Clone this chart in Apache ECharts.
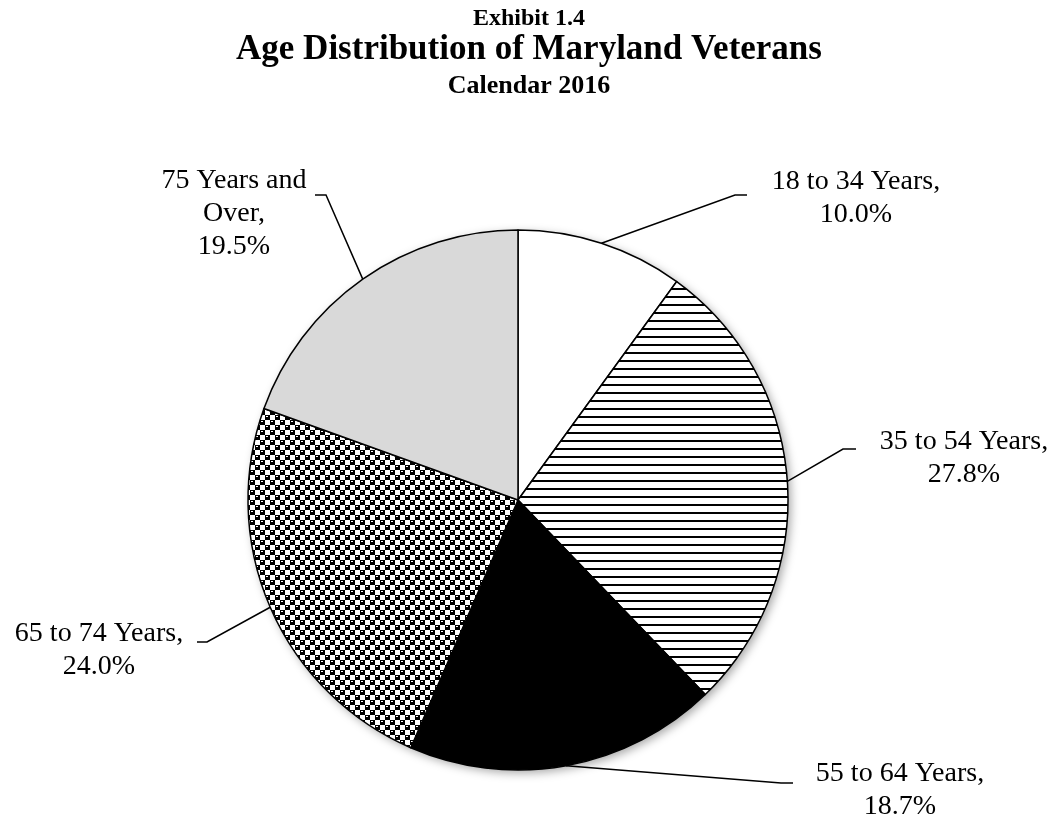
<!DOCTYPE html>
<html>
<head>
<meta charset="utf-8">
<title>Age Distribution of Maryland Veterans</title>
<script src="https://cdn.jsdelivr.net/npm/echarts@6/dist/echarts.min.js"></script>
<style>
  html, body { margin: 0; padding: 0; background: #fff; }
  #chart { width: 1058px; height: 820px; }
</style>
</head>
<body>
<div id="chart"></div>
<script>
var ageGroups = ["18 to 34 Years", "35 to 54 Years", "55 to 64 Years", "65 to 74 Years", "75 Years and Over"];
var sharePct = [10.0, 27.8, 18.7, 24.0, 19.5];

// where each label sits: text centre, and the point where the leader meets it
var labelSpots = [
  { tx: 856, ty: 198, bx: 735, by: 195, ex: 747, ey: 195 },
  { tx: 964, ty: 458, bx: 843, by: 449, ex: 856, ey: 449 },
  { tx: 900, ty: 790, bx: 781, by: 783, ex: 793, ey: 783 },
  { tx: 99,  ty: 650, bx: 207, by: 642, ex: 197, ey: 642 },
  { tx: 234, ty: 214, bx: 326, by: 195, ex: 315, ey: 195 }
];

// fill patterns like the excel ones
function hLines() {
  var c = document.createElement("canvas");
  c.width = 8; c.height = 8;
  var g = c.getContext("2d");
  g.fillStyle = "#fff"; g.fillRect(0, 0, 8, 8);
  g.fillStyle = "#000"; g.fillRect(0, 0, 8, 2);
  return c;
}
function spheres() {
  // checkerboard, black squares with a small white highlight
  var c = document.createElement("canvas");
  c.width = 10; c.height = 10;
  var g = c.getContext("2d");
  g.fillStyle = "#fff"; g.fillRect(0, 0, 10, 10);
  [[0, 0], [5, 5]].forEach(function (p) {
    g.fillStyle = "#000";
    g.fillRect(p[0], p[1], 5, 5);
    g.fillStyle = "#fff";
    g.fillRect(p[0] + 1, p[1] + 1, 2, 1);
  });
  return c;
}

var fills = [
  "#ffffff",
  { image: hLines(), repeat: "repeat" },
  "#000000",
  { image: spheres(), repeat: "repeat" },
  "#d9d9d9"
];

var pieData = ageGroups.map(function (n, i) {
  return { name: n, value: sharePct[i], itemStyle: { color: fills[i] } };
});

var serif = "'Liberation Serif', 'Times New Roman', serif";

var myChart = echarts.init(document.getElementById("chart"));
var option = {
  backgroundColor: "#fff",
  animation: false,
  title: [
    { text: "Exhibit 1.4", left: "center", top: 2,
      textStyle: { fontFamily: serif, fontWeight: "bold", fontSize: 24, color: "#000" } },
    { text: "Age Distribution of Maryland Veterans", left: "center", top: 27,
      textStyle: { fontFamily: serif, fontWeight: "bold", fontSize: 35, color: "#000" } },
    { text: "Calendar 2016", left: "center", top: 68,
      textStyle: { fontFamily: serif, fontWeight: "bold", fontSize: 26, color: "#000" } }
  ],
  series: [
    // soft shadow behind the pie
    {
      type: "pie", silent: true, z: 1,
      center: [518, 500], radius: 270,
      label: { show: false }, labelLine: { show: false },
      itemStyle: { color: "#fff", shadowBlur: 10, shadowColor: "rgba(0,0,0,0.35)", shadowOffsetX: 3, shadowOffsetY: 3 },
      data: [1]
    },
    {
      type: "pie", z: 2,
      center: [518, 500], radius: 270,
      startAngle: 90, clockwise: true,
      itemStyle: { borderColor: "#000", borderWidth: 1.5 },
      label: {
        show: true, position: "outside",
        fontFamily: serif, fontSize: 28, lineHeight: 33, color: "#000", align: "center",
        formatter: function (p) {
          return p.name.replace(" and Over", " and\nOver") + ",\n" + p.value.toFixed(1) + "%";
        }
      },
      labelLine: { show: true, lineStyle: { color: "#000", width: 1.5 } },
      labelLayout: function (p) {
        var s = labelSpots[p.dataIndex];
        var a = p.labelLinePoints ? p.labelLinePoints[0] : [s.bx, s.by];
        return {
          x: s.tx, y: s.ty, align: "center", verticalAlign: "middle",
          labelLinePoints: [a, [s.bx, s.by], [s.ex, s.ey]]
        };
      },
      data: pieData
    }
  ]
};
myChart.setOption(option);
</script>
</body>
</html>
